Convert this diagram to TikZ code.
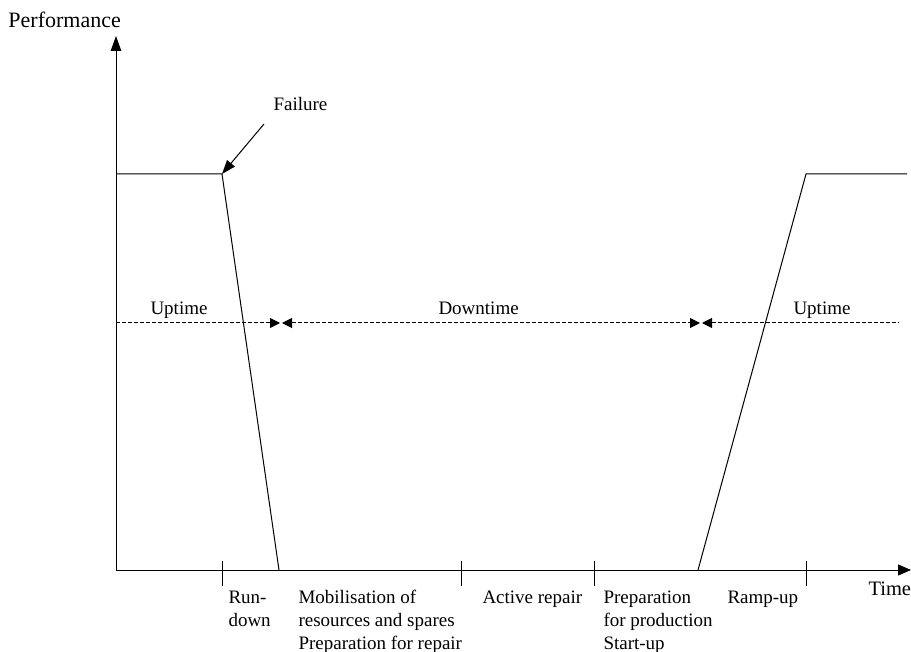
\documentclass[tikz,border=0pt]{standalone}
\usepackage{fontspec}
\setmainfont{Liberation Serif}
\usetikzlibrary{arrows.meta}
\tikzset{dhead/.tip={Triangle[length=10pt,width=10pt]}}
\begin{document}
\begin{tikzpicture}[x=1pt,y=-1pt,line width=1pt,
  tip/.style={-{Triangle[length=15pt,width=10.5pt]}},
  xtip/.style={-{Triangle[length=13pt,width=11pt]}},
  ftip/.style={-{Triangle[length=14pt,width=10pt]}},
  dline/.style={dash pattern=on 4pt off 2pt},
  lbl/.style={inner sep=0pt,anchor=base west,align=left,font=\fontsize{19}{23}\selectfont}]
\useasboundingbox (0,0) rectangle (911,652);
% axes
\coordinate (O) at (116,570);
\coordinate (Ytop) at (116,36);
\coordinate (Xend) at (911,570);
\draw[tip] (O) -- (Ytop);
\draw[xtip] (O) -- (Xend);
\node[lbl,font=\fontsize{22}{26}\selectfont] (perf) at (8,28) {Performance};
\node[lbl,font=\fontsize{20.5}{24}\selectfont] (time) at (868,595) {Time};
% performance curve
\coordinate (A) at (116,174);
\coordinate (B) at (222,174);
\coordinate (C) at (279,570);
\coordinate (D) at (698,570);
\coordinate (E) at (806,174);
\coordinate (F) at (907,174);
\draw (A) -- (B) -- (C);
\draw (D) -- (E) -- (F);
% failure
\node[lbl] (fail) at (273,111) {Failure};
\coordinate (fs) at (264,124);
\draw[ftip] (fs) -- (B);
% dashed line
\coordinate (d0) at (116,323);
\coordinate (d1) at (280,323);
\coordinate (d2) at (282,323);
\coordinate (d3) at (700,323);
\coordinate (d4) at (702,323);
\coordinate (d5) at (899,323);
\draw[dline,-dhead] (d0) -- (d1);
\draw[dline,dhead-dhead] (d2) -- (d3);
\draw[dline,dhead-] (d4) -- (d5);
\node[lbl] (up1) at (150,315) {Uptime};
\node[lbl] (down) at (438,315) {Downtime};
\node[lbl] (up2) at (793,315) {Uptime};
% ticks
\foreach \x/\n in {222/t1,461/t2,594/t3,806/t4}{
  \coordinate (\n a) at (\x,561);
  \coordinate (\n b) at (\x,586);
  \draw (\n a) -- (\n b);
}
% phase labels (anchor = baseline of last line)
\node[lbl] (l1) at (228,626) {Run-\\down};
\node[lbl] (l2) at (298,649) {Mobilisation of\\resources and spares\\Preparation for repair};
\node[lbl] (l3) at (482,603) {Active repair};
\node[lbl] (l4) at (603,649) {Preparation\\for production\\Start-up};
\node[lbl] (l5) at (727,603) {Ramp-up};
\end{tikzpicture}
\end{document}
